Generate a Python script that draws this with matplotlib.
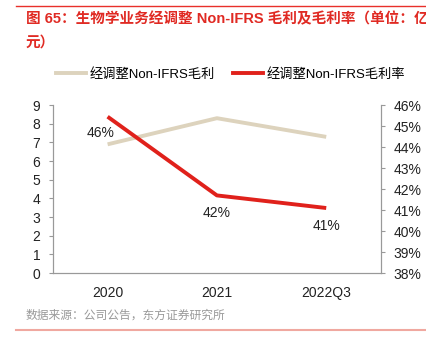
import matplotlib.pyplot as plt
from matplotlib.lines import Line2D

plt.rcParams['font.family'] = ['Liberation Sans', 'Noto Sans CJK SC', 'DejaVu Sans']

# data
categories = ["2020", "2021", "2022Q3"]
gross_profit = [6.9, 8.3, 7.3]          # 亿元
gross_margin = [45.45, 41.7, 41.1]      # %
margin_labels = ["46%", "42%", "41%"]

beige = "#DDD3BD"
red = "#E0211B"
gray = "#999999"

fig = plt.figure(figsize=(4.27, 3.47), dpi=100)
ax = fig.add_axes([0.124, 0.213, 0.768, 0.484])
ax2 = ax.twinx()

x = range(len(categories))
ax.plot(x, gross_profit, color=beige, lw=2.8, solid_capstyle="butt")
ax2.plot(x, gross_margin, color=red, lw=2.8, solid_capstyle="butt")

ax.set_xlim(-0.5, 2.5)
ax.set_ylim(0, 9)
ax.set_yticks(range(0, 10))
ax2.set_ylim(38, 46)
ax2.set_yticks(range(38, 47))
ax2.set_yticklabels([f"{v}%" for v in range(38, 47)])
ax.set_xticks(list(x))
ax.set_xticklabels(categories)

for a in (ax, ax2):
    for s in a.spines.values():
        s.set_color(gray)
        s.set_linewidth(0.8)
    a.spines["top"].set_visible(False)
    a.tick_params(labelsize=10, color=gray, length=3, width=0.8, labelcolor="#222222")
ax.tick_params(axis="x", length=0, pad=9)
ax.tick_params(axis="y", pad=6)
ax2.tick_params(axis="y", pad=6)

# margin labels
offsets = [(-5, 8), (0, -13), (0, -13)]
for i, (lab, off) in enumerate(zip(margin_labels, offsets)):
    ax2.annotate(lab, (i, gross_margin[i] if i else gross_profit[0] * 8 / 9 + 38),
                 xytext=off, textcoords="offset points", ha="center", va="center",
                 fontsize=10, color="#222222")

# legend
handles = [Line2D([], [], color=beige, lw=2.8), Line2D([], [], color=red, lw=2.8)]
fig.legend(handles, ["经调整Non-IFRS毛利", "经调整Non-IFRS毛利率"],
           loc="center", bbox_to_anchor=(0.54, 0.785), ncol=2, frameon=False,
           fontsize=9.5, handlelength=2.3, columnspacing=1.3, handletextpad=0.3)

# title, source and frame lines
fig.add_artist(Line2D([0.038, 1.0], [0.983, 0.983], color="#E8302A", lw=1))
fig.text(0.06, 0.945, "图 65：生物学业务经调整 Non-IFRS 毛利及毛利率（单位：亿",
         fontsize=10.5, fontweight="bold", color="#E02A23", va="center")
fig.text(0.06, 0.878, "元）", fontsize=10.5, fontweight="bold", color="#E02A23", va="center")
fig.text(0.06, 0.09, "数据来源：公司公告，东方证券研究所", fontsize=8.5, color="#999999", va="center")
fig.add_artist(Line2D([0.038, 1.0], [0.05, 0.05], color="#F0A8A0", lw=1.5))

fig.savefig("out.png", dpi=100)
